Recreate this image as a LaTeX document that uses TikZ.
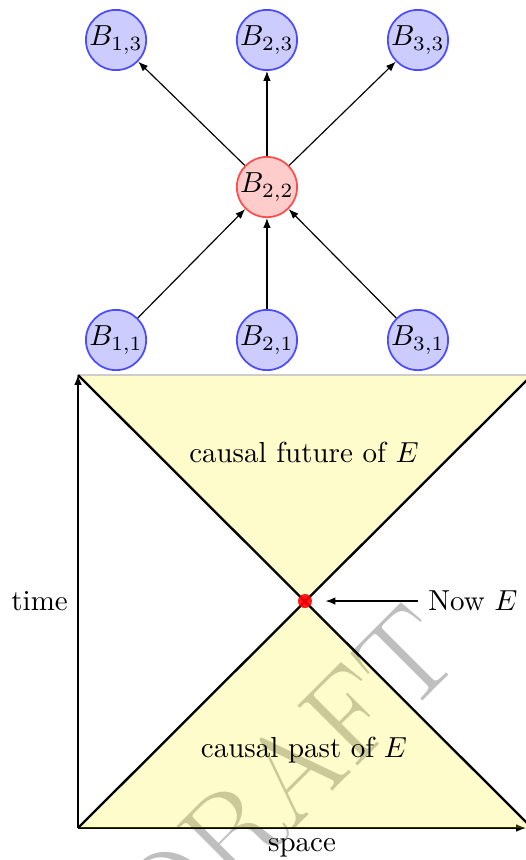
\documentclass[tikz,border=0pt]{standalone}
\usetikzlibrary{arrows.meta,positioning}

\begin{document}
\begin{tikzpicture}[x=1cm,y=1cm,>={Latex[length=3.4pt,width=2.6pt]},
  bnode/.style={circle,draw=blue!70,fill=blue!20,semithick,minimum size=0.72cm,inner sep=0pt},
  bhot/.style={bnode,draw=red!70,fill=red!20}]
  \useasboundingbox (0,0) rectangle (6.378,10.428);
  % watermark behind everything
  \node[rotate=45,text=lightgray,font=\fontsize{43}{52}\selectfont] (wm) at (3.480,1.019) {DRAFT};
  % blocks
  \node[bnode] (b13) at (1.407,9.943) {$B_{1,3}$};
  \node[bnode] (b23) at (3.237,9.943) {$B_{2,3}$};
  \node[bnode] (b33) at (5.068,9.943) {$B_{3,3}$};
  \node[bhot]  (b22) at (3.237,8.160) {$B_{2,2}$};
  \node[bnode] (b11) at (1.407,6.305) {$B_{1,1}$};
  \node[bnode] (b21) at (3.237,6.305) {$B_{2,1}$};
  \node[bnode] (b31) at (5.068,6.305) {$B_{3,1}$};
  \foreach \t in {b13,b23,b33}{
    \draw[->] (b22) -- (\t);
  }
  \foreach \s in {b11,b21,b31}{
    \draw[->] (\s) -- (b22);
  }
  % light cone
  \coordinate (o) at (0.946,0.388);
  \coordinate (tl) at (0.946,5.881);
  \coordinate (tr) at (6.451,5.881);
  \coordinate (br) at (6.451,0.388);
  \coordinate (xe) at (6.378,0.388);
  \coordinate (e) at (3.698,3.140);
  \draw[->] (o) -- node[left] (time) {time} (tl);
  \draw[->] (o) -- node[below] (space) {space} (xe);
  \fill[yellow,fill opacity=0.2] (tl) -- (e) -- (tr) -- cycle;
  \fill[yellow,fill opacity=0.2] (o) -- (e) -- (br) -- cycle;
  \draw[gray!40] (tl) -- (tr);
  \draw[thick] (tl) -- (br);
  \draw[thick] (o) -- (tr);
  \node[circle,fill=red,fill opacity=0.9,minimum size=0.17cm,inner sep=0pt] (ev) at (e) {};
  \node (fut) at (3.686,4.947) {causal future of $E$};
  \node (past) at (3.686,1.334) {causal past of $E$};
  \node[right] (now) at (5.07,3.140) {Now $E$};
  \draw[->,shorten >=4.5pt] (now) -- (ev);
\end{tikzpicture}
\end{document}
